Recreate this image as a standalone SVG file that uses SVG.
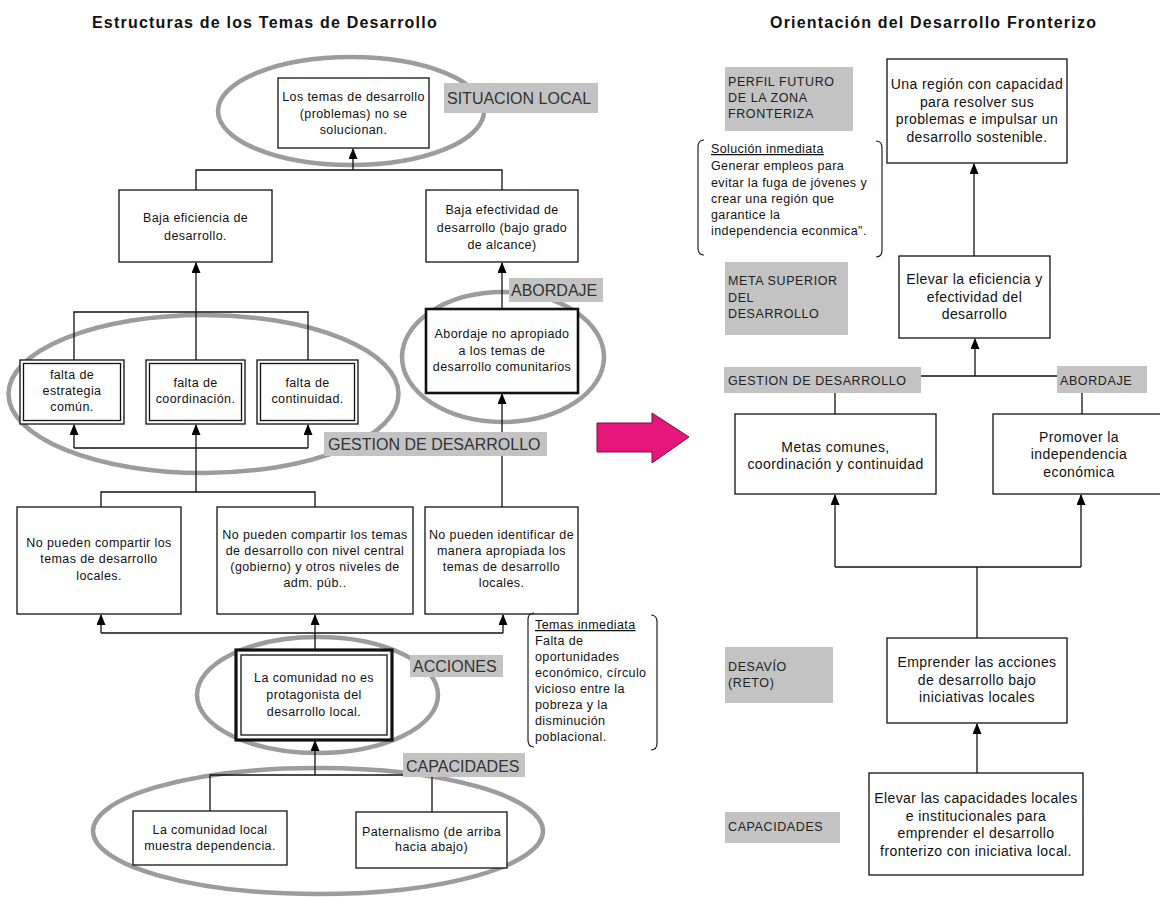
<svg xmlns="http://www.w3.org/2000/svg" width="1160" height="897" viewBox="0 0 1160 897">
  <defs>
    <marker id="ah" markerUnits="userSpaceOnUse" markerWidth="11" markerHeight="9" refX="10" refY="4.5" orient="auto" viewBox="0 0 11 9">
      <path d="M0,0 L11,4.5 L0,9 Z" fill="#000"/>
    </marker>
    <style>
      text { font-family: "Liberation Sans", Arial, sans-serif; fill: #111; }
      .title { font-size: 16px; font-weight: bold; letter-spacing: 1.2px; }
      .bx { fill: #fff; stroke: #111; stroke-width: 1.3; }
      .thick { fill: #fff; stroke: #111; stroke-width: 2.6; }
      .t { font-size: 12.5px; letter-spacing: 0.4px; text-anchor: middle; }
      .tl { font-size: 12.5px; letter-spacing: 0.4px; }
      .tr { font-size: 14px; letter-spacing: 0.4px; text-anchor: middle; }
      .lab { fill: #c3c3c3; }
      .labL { font-size: 16px; fill: #333; }
      .labR { font-size: 12.5px; letter-spacing: 0.6px; fill: #222; }
      .ring { fill: none; stroke: #9c9c9c; stroke-width: 4.5; }
      .ln { fill: none; stroke: #111; stroke-width: 1.3; }
      .arr { fill: none; stroke: #111; stroke-width: 1.3; marker-end: url(#ah); }
      .brk { fill: none; stroke: #222; stroke-width: 1.2; }
    </style>
  </defs>
  <rect width="1160" height="897" fill="#fff"/>

  <!-- headings -->
  <text class="title" x="92" y="28">Estructuras de los Temas de Desarrollo</text>
  <text class="title" x="770" y="28">Orientación del Desarrollo Fronterizo</text>

  <!-- grey rings grouping the left-hand problem tree -->
  <g id="rings">
    <ellipse class="ring" cx="351" cy="111" rx="133" ry="54"/>
    <ellipse class="ring" cx="203.5" cy="394" rx="195" ry="79"/>
    <ellipse class="ring" cx="503" cy="357" rx="101" ry="65"/>
    <ellipse class="ring" cx="317.5" cy="695" rx="120.5" ry="58"/>
    <ellipse class="ring" cx="318" cy="831" rx="225" ry="63"/>
  </g>

  <!-- connectors -->
  <g id="connectors">
    <!-- left tree -->
    <path class="arr" d="M353,170 V149"/>
    <path class="ln" d="M196,190 V170 H502 V190"/>
    <path class="arr" d="M196,360 V263"/>
    <path class="ln" d="M74,360 V312 H308 V360"/>
    <path class="arr" d="M502,309 V263"/>
    <path class="ln" d="M74,448 H308"/>
    <path class="arr" d="M74,448 V425"/>
    <path class="arr" d="M308,448 V425"/>
    <path class="arr" d="M196,492 V425"/>
    <path class="ln" d="M101,507 V492 H315 V507"/>
    <path class="arr" d="M502,507 V394"/>
    <path class="ln" d="M101,633 H503"/>
    <path class="arr" d="M101,633 V615"/>
    <path class="arr" d="M503,633 V615"/>
    <path class="arr" d="M315,650 V615"/>
    <path class="arr" d="M315,775 V741"/>
    <path class="ln" d="M210,811 V775 H432 V812"/>
    <!-- right tree -->
    <path class="arr" d="M974,256 V164"/>
    <path class="arr" d="M975,376 V339"/>
    <path class="ln" d="M921,376 H1057"/>
    <path class="ln" d="M835,393 V414"/>
    <path class="ln" d="M1082,393 V414"/>
    <path class="ln" d="M835,567 H1081"/>
    <path class="arr" d="M835,567 V495"/>
    <path class="arr" d="M1081,567 V495"/>
    <path class="ln" d="M977,567 V638"/>
    <path class="arr" d="M977,773 V724"/>
  </g>

  <!-- left-hand nodes -->
  <g id="no-solucion">
    <rect class="bx" x="278" y="78" width="151" height="70"/>
    <text class="t" x="353.5" y="101">Los temas de desarrollo</text>
    <text class="t" x="353.5" y="118">(problemas) no se</text>
    <text class="t" x="353.5" y="134">solucionan.</text>
  </g>
  <g id="baja-eficiencia">
    <rect class="bx" x="119" y="190" width="153" height="72"/>
    <text class="t" x="195.5" y="222">Baja eficiencia de</text>
    <text class="t" x="195.5" y="240">desarrollo.</text>
  </g>
  <g id="baja-efectividad">
    <rect class="bx" x="426" y="190" width="152" height="72"/>
    <text class="t" x="502" y="214">Baja efectividad de</text>
    <text class="t" x="502" y="232">desarrollo (bajo grado</text>
    <text class="t" x="502" y="249">de alcance)</text>
  </g>
  <g id="falta-estrategia">
    <rect class="bx" x="20" y="360" width="104" height="64"/>
    <rect class="bx" x="23.5" y="363.5" width="97" height="57"/>
    <text class="t" x="72" y="379">falta de</text>
    <text class="t" x="72" y="395">estrategia</text>
    <text class="t" x="72" y="411">común.</text>
  </g>
  <g id="falta-coordinacion">
    <rect class="bx" x="146" y="360" width="99" height="64"/>
    <rect class="bx" x="149.5" y="363.5" width="92" height="57"/>
    <text class="t" x="195.5" y="387">falta de</text>
    <text class="t" x="195.5" y="403">coordinación.</text>
  </g>
  <g id="falta-continuidad">
    <rect class="bx" x="257" y="360" width="101" height="64"/>
    <rect class="bx" x="260.5" y="363.5" width="94" height="57"/>
    <text class="t" x="307.5" y="387">falta de</text>
    <text class="t" x="307.5" y="403">continuidad.</text>
  </g>
  <g id="abordaje-no-apropiado">
    <rect class="thick" x="426" y="309" width="152" height="84"/>
    <text class="t" x="502" y="338">Abordaje no apropiado</text>
    <text class="t" x="502" y="355">a los temas de</text>
    <text class="t" x="502" y="371">desarrollo comunitarios</text>
  </g>
  <g id="compartir-locales">
    <rect class="bx" x="17" y="507" width="164" height="107"/>
    <text class="t" x="99" y="547">No pueden compartir los</text>
    <text class="t" x="99" y="563">temas de desarrollo</text>
    <text class="t" x="99" y="580">locales.</text>
  </g>
  <g id="compartir-central">
    <rect class="bx" x="217" y="507" width="196" height="107"/>
    <text class="t" x="315" y="539">No pueden compartir los temas</text>
    <text class="t" x="315" y="555">de desarrollo con nivel central</text>
    <text class="t" x="315" y="571">(gobierno) y otros niveles de</text>
    <text class="t" x="315" y="587">adm. púb..</text>
  </g>
  <g id="identificar">
    <rect class="bx" x="425" y="507" width="153" height="107"/>
    <text class="t" x="501.5" y="539">No pueden identificar de</text>
    <text class="t" x="501.5" y="555">manera apropiada los</text>
    <text class="t" x="501.5" y="571">temas de desarrollo</text>
    <text class="t" x="501.5" y="587">locales.</text>
  </g>
  <g id="comunidad-no-protagonista">
    <rect x="236" y="650" width="156" height="90" fill="#fff" stroke="#111" stroke-width="3.2"/>
    <rect x="241" y="655" width="146" height="80" fill="none" stroke="#111" stroke-width="1.3"/>
    <text class="t" x="314" y="682">La comunidad no es</text>
    <text class="t" x="314" y="699">protagonista del</text>
    <text class="t" x="314" y="716">desarrollo local.</text>
  </g>
  <g id="dependencia">
    <rect class="bx" x="133" y="811" width="154" height="54"/>
    <text class="t" x="210" y="834">La comunidad local</text>
    <text class="t" x="210" y="850">muestra dependencia.</text>
  </g>
  <g id="paternalismo">
    <rect class="bx" x="356" y="812" width="151" height="56"/>
    <text class="t" x="431.5" y="836">Paternalismo (de arriba</text>
    <text class="t" x="431.5" y="851">hacia abajo)</text>
  </g>
  <g id="temas-inmediata">
    <path class="brk" d="M534,613 Q528,613 528,620 V740 Q528,747 534,747"/>
    <path class="brk" d="M651,615 Q657,615 657,622 V743 Q657,750 651,750"/>
    <text class="tl" x="535" y="629" text-decoration="underline">Temas inmediata</text>
    <text class="tl" x="535" y="645">Falta de</text>
    <text class="tl" x="535" y="661">oportunidades</text>
    <text class="tl" x="535" y="677">económico, círculo</text>
    <text class="tl" x="535" y="693">vicioso entre la</text>
    <text class="tl" x="535" y="709">pobreza y la</text>
    <text class="tl" x="535" y="725">disminución</text>
    <text class="tl" x="535" y="741">poblacional.</text>
  </g>

  <!-- left-hand category tags -->
  <g id="tag-situacion">
    <rect class="lab" x="444" y="83" width="154" height="30"/>
    <text class="labL" x="447" y="104">SITUACION LOCAL</text>
  </g>
  <g id="tag-abordaje">
    <rect class="lab" x="509" y="278" width="94" height="24"/>
    <text class="labL" x="511" y="296">ABORDAJE</text>
  </g>
  <g id="tag-gestion">
    <rect class="lab" x="324" y="432" width="223" height="24"/>
    <text class="labL" x="328" y="450">GESTION DE DESARROLLO</text>
  </g>
  <g id="tag-acciones">
    <rect class="lab" x="410" y="655" width="93" height="22"/>
    <text class="labL" x="413" y="672">ACCIONES</text>
  </g>
  <g id="tag-capacidades">
    <rect class="lab" x="403" y="753" width="122" height="24"/>
    <text class="labL" x="406" y="772">CAPACIDADES</text>
  </g>

  <!-- transition arrow -->
  <g id="transition">
    <polygon points="597,423 652,423 652,413 689,437 652,463 652,452 597,452" fill="#e5157a" stroke="#7a1040" stroke-width="1"/>
  </g>

  <!-- right-hand row tags -->
  <g id="tag-perfil">
    <rect class="lab" x="725" y="67" width="128" height="64"/>
    <text class="labR" x="728" y="86">PERFIL FUTURO</text>
    <text class="labR" x="728" y="102">DE LA ZONA</text>
    <text class="labR" x="728" y="118">FRONTERIZA</text>
  </g>
  <g id="tag-meta">
    <rect class="lab" x="725" y="262" width="123" height="73"/>
    <text class="labR" x="728" y="285">META SUPERIOR</text>
    <text class="labR" x="728" y="302">DEL</text>
    <text class="labR" x="728" y="318">DESARROLLO</text>
  </g>
  <g id="tag-gestion-r">
    <rect class="lab" x="724" y="367" width="197" height="26"/>
    <text class="labR" x="728" y="385">GESTION DE DESARROLLO</text>
  </g>
  <g id="tag-abordaje-r">
    <rect class="lab" x="1057" y="366" width="90" height="27"/>
    <text class="labR" x="1060" y="385">ABORDAJE</text>
  </g>
  <g id="tag-desavio">
    <rect class="lab" x="725" y="647" width="108" height="56"/>
    <text class="labR" x="728" y="671">DESAVÍO</text>
    <text class="labR" x="728" y="687">(RETO)</text>
  </g>
  <g id="tag-capacidades-r">
    <rect class="lab" x="725" y="812" width="115" height="31"/>
    <text class="labR" x="728" y="831">CAPACIDADES</text>
  </g>

  <!-- right-hand nodes -->
  <g id="solucion-inmediata">
    <path class="brk" d="M704,140 Q698,140 698,147 V248 Q698,255 704,255"/>
    <path class="brk" d="M876,141 Q882,141 882,148 V250 Q882,257 876,257"/>
    <text class="tl" x="711" y="153" text-decoration="underline">Solución inmediata</text>
    <text class="tl" x="711" y="170">Generar empleos para</text>
    <text class="tl" x="711" y="187">evitar la fuga de jóvenes y</text>
    <text class="tl" x="711" y="203">crear una región que</text>
    <text class="tl" x="711" y="219">garantice la</text>
    <text class="tl" x="711" y="235">independencia econmica".</text>
  </g>
  <g id="region-capaz">
    <rect class="bx" x="887" y="59" width="180" height="104"/>
    <text class="tr" x="977" y="89">Una región con capacidad</text>
    <text class="tr" x="977" y="107">para resolver sus</text>
    <text class="tr" x="977" y="124">problemas e impulsar un</text>
    <text class="tr" x="977" y="142">desarrollo sostenible.</text>
  </g>
  <g id="elevar-eficiencia">
    <rect class="bx" x="899" y="256" width="151" height="82"/>
    <text class="tr" x="974.5" y="284">Elevar la eficiencia y</text>
    <text class="tr" x="974.5" y="302">efectividad del</text>
    <text class="tr" x="974.5" y="319">desarrollo</text>
  </g>
  <g id="metas-comunes">
    <rect class="bx" x="735" y="414" width="201" height="80"/>
    <text class="tr" x="835.5" y="452">Metas comunes,</text>
    <text class="tr" x="835.5" y="469">coordinación y continuidad</text>
  </g>
  <g id="independencia">
    <rect class="bx" x="993" y="414" width="175" height="80"/>
    <text class="tr" x="1079" y="442">Promover la</text>
    <text class="tr" x="1079" y="459">independencia</text>
    <text class="tr" x="1079" y="477">económica</text>
  </g>
  <g id="emprender">
    <rect class="bx" x="887" y="638" width="180" height="85"/>
    <text class="tr" x="977" y="667">Emprender las acciones</text>
    <text class="tr" x="977" y="685">de desarrollo bajo</text>
    <text class="tr" x="977" y="702">iniciativas locales</text>
  </g>
  <g id="elevar-capacidades">
    <rect class="bx" x="869" y="773" width="214" height="102"/>
    <text class="tr" x="976" y="803">Elevar las capacidades locales</text>
    <text class="tr" x="976" y="821">e institucionales para</text>
    <text class="tr" x="976" y="838">emprender el desarrollo</text>
    <text class="tr" x="976" y="856">fronterizo con iniciativa local.</text>
  </g>
</svg>
